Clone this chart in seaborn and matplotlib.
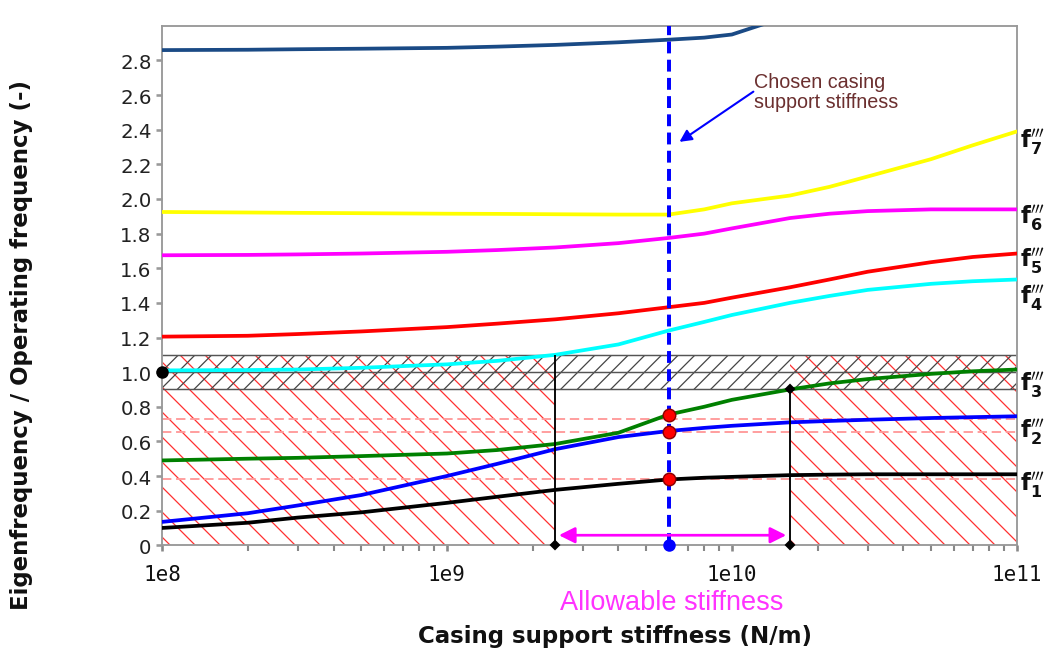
import numpy as np
import pandas as pd
import matplotlib
matplotlib.use("Agg")
import matplotlib.pyplot as plt
from matplotlib.ticker import FixedLocator, FixedFormatter, NullFormatter, LogLocator
import seaborn as sns

# casing support stiffness (N/m) where the eigenfrequencies were read
stiffness = [1e8, 2e8, 3e8, 5e8, 1e9, 1.5e9, 2.4e9, 4e9, 6e9, 8e9, 1e10,
             1.6e10, 2.2e10, 3e10, 5e10, 7e10, 1e11]

# eigenfrequency / operating frequency for each mode
f1 = [0.10, 0.13, 0.16, 0.19, 0.245, 0.28, 0.32, 0.355, 0.38, 0.39, 0.395,
      0.405, 0.408, 0.41, 0.41, 0.41, 0.41]
f2 = [0.135, 0.185, 0.23, 0.29, 0.40, 0.47, 0.555, 0.625, 0.66, 0.678, 0.69,
      0.71, 0.718, 0.725, 0.735, 0.74, 0.745]
f3 = [0.49, 0.50, 0.505, 0.515, 0.53, 0.55, 0.585, 0.65, 0.755, 0.80, 0.84,
      0.90, 0.935, 0.96, 0.99, 1.005, 1.015]
f4 = [1.01, 1.012, 1.015, 1.025, 1.045, 1.065, 1.10, 1.16, 1.24, 1.29, 1.33,
      1.40, 1.44, 1.475, 1.51, 1.525, 1.535]
f5 = [1.205, 1.21, 1.22, 1.235, 1.26, 1.28, 1.305, 1.34, 1.375, 1.40, 1.43,
      1.49, 1.535, 1.58, 1.635, 1.665, 1.685]
f6 = [1.675, 1.677, 1.68, 1.685, 1.695, 1.705, 1.72, 1.745, 1.775, 1.80, 1.83,
      1.89, 1.915, 1.93, 1.94, 1.94, 1.94]
f7 = [1.925, 1.922, 1.92, 1.918, 1.915, 1.914, 1.912, 1.91, 1.91, 1.94, 1.975,
      2.02, 2.07, 2.13, 2.23, 2.31, 2.39]
f8 = [2.86, 2.862, 2.865, 2.868, 2.873, 2.88, 2.89, 2.905, 2.92, 2.932, 2.95,
      3.06, np.nan, np.nan, np.nan, np.nan, np.nan]

mode_names = ["f1", "f2", "f3", "f4", "f5", "f6", "f7", "f8"]
mode_colors = ["black", "#0000ff", "#008000", "#00ffff", "#ff0000",
               "#ff00ff", "#ffff00", "#1a4a85"]
mode_numbers = ["1", "2", "3", "4", "5", "6", "7"]
label_y = [0.35, 0.66, 0.93, 1.433, 1.647, 1.896, 2.335]

# design limits
chosen_stiffness = 6e9
allowable_min = 2.4e9
allowable_max = 1.6e10
chosen_ratios = [0.38, 0.655, 0.755]
margin_lines = [0.38, 0.655, 0.73]
band_low, band_mid, band_high = 0.9, 1.0, 1.1

y_ticks = [0, 0.2, 0.4, 0.6, 0.8, 1.0, 1.2, 1.4, 1.6, 1.8, 2.0, 2.2, 2.4, 2.6, 2.8]
y_ticklabels = ["0", "0.2", "0.4", "0.6", "0.8", "1.0", "1.2", "1.4", "1.6",
                "1.8", "2.0", "2.2", "2.4", "2.6", "2.8"]
x_ticks = [1e8, 1e9, 1e10, 1e11]
x_ticklabels = ["1e8", "1e9", "1e10", "1e11"]

sns.set_theme(style="white")
plt.rcParams["font.family"] = ["DejaVu Sans"]
plt.rcParams["hatch.linewidth"] = 0.6
plt.rcParams["mathtext.fontset"] = "dejavusans"

df = pd.DataFrame({"stiffness": stiffness, "f1": f1, "f2": f2, "f3": f3, "f4": f4,
                   "f5": f5, "f6": f6, "f7": f7, "f8": f8})
long = df.melt(id_vars="stiffness", var_name="mode", value_name="ratio").dropna()

fig = plt.figure(figsize=(1045 / 150, 655 / 150), dpi=150)
ax = fig.add_axes([0.155, 0.166, 0.818, 0.793])
ax.set_xscale("log")

# forbidden zones (red hatch) and operating band (black hatch)
ax.fill_between([stiffness[0], allowable_min], 0, band_high, facecolor="none",
                edgecolor="#ff3030", hatch="\\\\", linewidth=0, zorder=1)
ax.fill_between([allowable_max, stiffness[-1]], 0, band_high, facecolor="none",
                edgecolor="#ff3030", hatch="\\\\", linewidth=0, zorder=1)
ax.axhspan(band_low, band_high, facecolor="none", edgecolor="#444444",
           hatch="///", linewidth=0, zorder=1)
for yv in (band_low, band_mid, band_high):
    ax.axhline(yv, color="#555555", lw=0.7, zorder=2)
for yv in margin_lines:
    ax.axhline(yv, color="#ff9a9a", lw=0.9, ls=(0, (5, 2.5)), zorder=2)

sns.lineplot(data=long, x="stiffness", y="ratio", hue="mode", hue_order=mode_names,
             palette=mode_colors, estimator=None, legend=False, linewidth=1.8,
             ax=ax, zorder=3)

# allowable stiffness limits
ax.vlines([allowable_min], 0, band_high, color="black", lw=0.9, zorder=4)
ax.vlines([allowable_max], 0, band_low, color="black", lw=0.9, zorder=4)
ax.plot([allowable_min, allowable_max, allowable_max], [0, 0, band_low], "D",
        color="black", ms=3, clip_on=False, zorder=5)
ax.annotate("", xy=(allowable_min * 1.03, 0.058), xytext=(allowable_max * 0.97, 0.058),
            arrowprops=dict(arrowstyle="<|-|>", color="#ff00ff", lw=1.3,
                            mutation_scale=16, shrinkA=0, shrinkB=0), zorder=5)

# chosen stiffness
ax.axvline(chosen_stiffness, color="#0000ff", lw=1.9, ls=(0, (3, 1.6)), zorder=4)
ax.plot([chosen_stiffness] * 3, chosen_ratios, "o", ms=6, mfc="#ff0000",
        mec="#8b0000", mew=0.7, zorder=6)
ax.plot([chosen_stiffness], [0], "o", ms=5, color="#0000ff", clip_on=False, zorder=6)
ax.plot([stiffness[0]], [band_mid], "o", ms=5, color="black", clip_on=False, zorder=6)

ax.text(1.2e10, 2.62, "Chosen casing\nsupport stiffness", fontsize=9.5,
        family=["Liberation Sans"], color="#6b2f2f", va="center", ha="left",
        linespacing=1.05)
ax.annotate("", xy=(6.55e9, 2.33), xytext=(1.19e10, 2.62),
            arrowprops=dict(arrowstyle="-|>", color="#0000ff", lw=1.0,
                            mutation_scale=12, shrinkA=0, shrinkB=0))

for num, yv in zip(mode_numbers, label_y):
    ax.text(1.025e11, yv, r"$\mathbf{f}_{\mathbf{" + num + r"}}^{\prime\prime\prime}$",
            fontsize=11, va="center", ha="left", color="#111111", clip_on=False)

ax.set_xlim(1e8, 1e11)
ax.set_ylim(0, 3.0)
ax.yaxis.set_major_locator(FixedLocator(y_ticks))
ax.yaxis.set_major_formatter(FixedFormatter(y_ticklabels))
ax.xaxis.set_major_locator(FixedLocator(x_ticks))
ax.xaxis.set_major_formatter(FixedFormatter(x_ticklabels))
ax.xaxis.set_minor_locator(LogLocator(base=10, subs=np.arange(2, 10)))
ax.xaxis.set_minor_formatter(NullFormatter())
ax.tick_params(axis="y", which="major", length=3, color="#999999", labelsize=9.5,
               labelcolor="#222222", pad=2, left=True)
ax.tick_params(axis="x", which="both", length=3, color="#888888", direction="out",
               bottom=True, pad=6)
for lbl in ax.get_xticklabels():
    lbl.set_family("DejaVu Sans Mono")
    lbl.set_fontsize(10)
    lbl.set_color("#111111")
for sp in ax.spines.values():
    sp.set_color("#999999")
    sp.set_linewidth(0.9)
ax.set_xlabel("")
ax.set_ylabel("")

fig.text(672 / 1045, 1 - 603 / 655, "Allowable stiffness", color="#ff33ff",
         fontsize=13, family=["Liberation Sans"], ha="center", va="center")
fig.text(615 / 1045, 1 - 637 / 655, "Casing support stiffness (N/m)",
         fontsize=11, fontweight="bold", ha="center", va="center", color="#111111")
fig.text(22 / 1045, 1 - 345 / 655, "Eigenfrequency / Operating frequency (-)",
         fontsize=11, fontweight="bold", rotation=90, ha="center", va="center",
         color="#111111")

fig.savefig("out.png", dpi=150)
